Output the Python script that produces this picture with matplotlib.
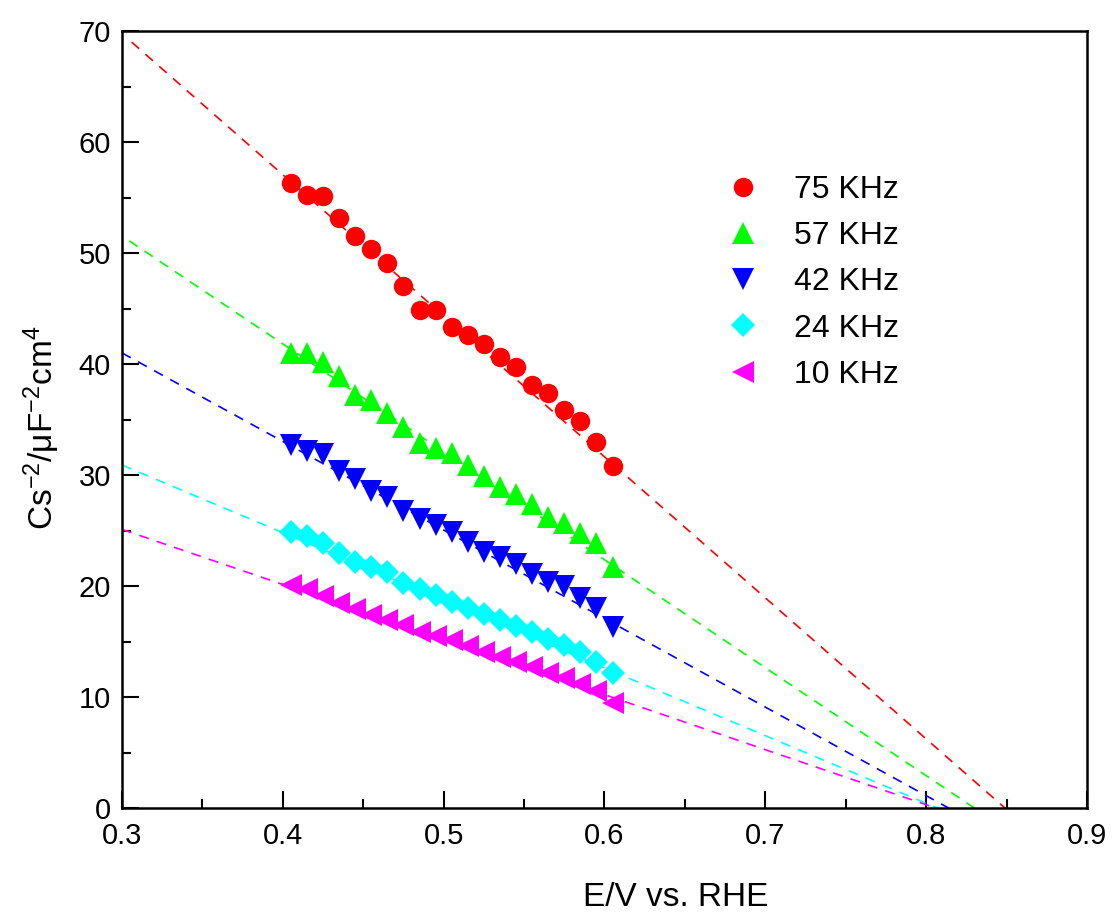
import matplotlib
matplotlib.use('Agg')
import matplotlib.pyplot as plt
from matplotlib.ticker import MultipleLocator

plt.rcParams['font.family'] = ['Liberation Sans', 'DejaVu Sans']
plt.rcParams['mathtext.default'] = 'regular'

# potential (V vs RHE)
potential = [0.405, 0.415, 0.425, 0.435, 0.445, 0.455, 0.465, 0.475, 0.485, 0.495,
             0.505, 0.515, 0.525, 0.535, 0.545, 0.555, 0.565, 0.575, 0.585, 0.595, 0.605]

# Cs^-2 values
cs_75 = [56.3, 55.2, 55.1, 53.2, 51.5, 50.4, 49.1, 47.0, 44.9, 44.9,
         43.3, 42.6, 41.8, 40.6, 39.7, 38.1, 37.4, 35.9, 34.9, 33.0, 30.8]
cs_57 = [41.0, 41.0, 40.2, 38.9, 37.2, 36.8, 35.6, 34.3, 32.9, 32.4,
         32.0, 30.9, 29.9, 28.9, 28.3, 27.4, 26.2, 25.7, 24.8, 23.9, 21.7]
cs_42 = [32.7, 32.2, 31.9, 30.4, 29.6, 28.6, 28.0, 26.8, 26.0, 25.5,
         24.9, 24.0, 23.1, 22.6, 22.0, 21.1, 20.4, 20.0, 18.9, 18.0, 16.3]
cs_24 = [24.9, 24.5, 23.9, 23.0, 22.2, 21.7, 21.3, 20.3, 19.7, 19.2,
         18.6, 18.0, 17.5, 16.9, 16.4, 15.9, 15.2, 14.7, 14.1, 13.2, 12.2]
cs_10 = [20.1, 19.7, 19.1, 18.5, 17.9, 17.4, 16.9, 16.5, 15.9, 15.5,
         15.1, 14.6, 14.1, 13.6, 13.2, 12.7, 12.2, 11.7, 11.2, 10.5, 9.5]

labels = ['75 KHz', '57 KHz', '42 KHz', '24 KHz', '10 KHz']
series = [cs_75, cs_57, cs_42, cs_24, cs_10]
colors = ['#ff0000', '#00ff00', '#0000ff', '#00ffff', '#ff00ff']
markers = ['o', '^', 'v', 'D', '<']
msizes = [14, 16, 16, 12, 16]

# Mott-Schottky fit lines: (x start, y start) -> (flat band potential, 0)
fit_x0 = [0.306, 0.3045, 0.3, 0.3, 0.3]
fit_y0 = [69.0, 51.1, 41.0, 30.9, 25.1]
fit_efb = [0.849, 0.830, 0.814, 0.807, 0.806]

fig = plt.figure(figsize=(11.13, 9.18), dpi=100)
ax = fig.add_axes([0.1096, 0.1198, 0.867, 0.8464])

for i in range(len(series)):
    ax.plot([fit_x0[i], fit_efb[i]], [fit_y0[i], 0], color=colors[i],
            linestyle=(0, (6, 5)), linewidth=1.2, zorder=2)
for i in range(len(series)):
    ax.plot(potential, series[i], linestyle='none', marker=markers[i],
            markersize=msizes[i], color=colors[i], markeredgewidth=0,
            label=labels[i], zorder=3)

ax.set_xlim(0.3, 0.9)
ax.set_ylim(0, 70)
ax.xaxis.set_major_locator(MultipleLocator(0.1))
ax.xaxis.set_minor_locator(MultipleLocator(0.05))
ax.yaxis.set_major_locator(MultipleLocator(10))
ax.yaxis.set_minor_locator(MultipleLocator(5))
ax.tick_params(which='both', direction='in', width=1.5, top=False, right=False)
ax.tick_params(which='major', length=12, labelsize=21)
ax.tick_params(axis='x', which='major', pad=10)
ax.tick_params(axis='y', which='major', pad=8)
ax.tick_params(which='minor', length=6.5)
for sp in ax.spines.values():
    sp.set_linewidth(1.8)

ax.set_xlabel('E/V vs. RHE', fontsize=24)
ax.xaxis.set_label_coords(0.574, -0.095)
ax.set_ylabel('Cs$^{-2}$/μF$^{-2}$cm$^{4}$', fontsize=24)
ax.yaxis.set_label_coords(-0.062, 0.49)

ax.legend(loc='upper left', bbox_to_anchor=(0.581, 0.852), frameon=False,
          fontsize=23, labelspacing=0.51, handletextpad=0.6, handlelength=2.0)

fig.savefig('out.png', dpi=100)
